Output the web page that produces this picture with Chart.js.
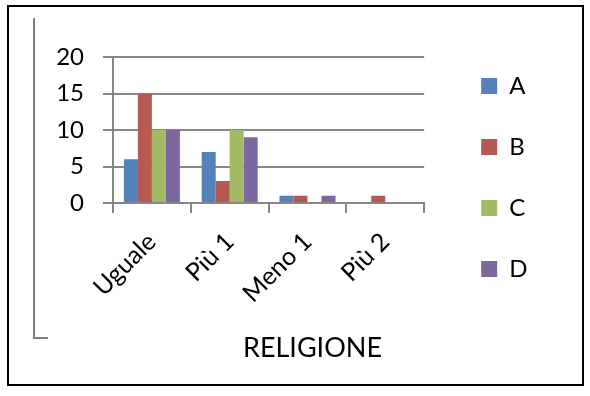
<!DOCTYPE html>
<html><head><meta charset="utf-8">
<script src="https://cdn.jsdelivr.net/npm/chart.js@4/dist/chart.umd.min.js"></script>
<style>
html,body{margin:0;padding:0;background:#fff;}
#wrap{position:relative;width:590px;height:396px;}
canvas{position:absolute;left:0;top:0;}
#xtitle{position:absolute;left:0;width:625px;top:333px;text-align:center;font-family:Lato,sans-serif;font-size:27px;line-height:1;color:#000;white-space:nowrap;}
</style></head><body>
<div id="wrap"><canvas id="c" width="590" height="396"></canvas><div id="xtitle"></div></div>
<script>
const categories = ['Uguale', 'Più 1', 'Meno 1', 'Più 2'];
const seriesNames = ['A', 'B', 'C', 'D'];
const seriesA = [6, 7, 1, 0];
const seriesB = [15, 3, 1, 1];
const seriesC = [10, 10, 0, 0];
const seriesD = [10, 9, 1, 0];
const yTickValues = [0, 5, 10, 15, 20];
const axisTitle = 'RELIGIONE';

document.getElementById('xtitle').textContent = axisTitle;

const seriesValues = [seriesA, seriesB, seriesC, seriesD];
const colors = ['#5581BB', '#B65A51', '#A2BA65', '#7C67A1'];
const GRID = '#878787';
const FONT = 'Lato';

const framePlugin = {
  id: 'frame',
  beforeDraw(chart) {
    const ctx = chart.ctx;
    ctx.save();
    ctx.fillStyle = '#fff';
    ctx.fillRect(0, 0, chart.width, chart.height);
    ctx.strokeStyle = '#000';
    ctx.lineWidth = 2;
    ctx.strokeRect(8, 6, 575, 379);
    ctx.strokeStyle = '#808080';
    ctx.lineWidth = 2;
    ctx.beginPath();
    ctx.moveTo(34, 18);
    ctx.lineTo(34, 338);
    ctx.lineTo(48, 338);
    ctx.stroke();
    ctx.restore();
  }
};

new Chart(document.getElementById('c'), {
  type: 'bar',
  data: {
    labels: categories,
    datasets: seriesNames.map((n, i) => ({
      label: n,
      data: seriesValues[i],
      backgroundColor: colors[i],
      borderWidth: 0,
      categoryPercentage: 0.72,
      barPercentage: 1.0
    }))
  },
  options: {
    responsive: false,
    animation: false,
    devicePixelRatio: 1,
    layout: { padding: { left: 0, right: 57, top: 37, bottom: 0 } },
    plugins: {
      legend: {
        position: 'right',
        align: 'start',
        labels: {
          boxWidth: 16, boxHeight: 16, padding: 37,
          color: '#000',
          font: { family: FONT, size: 24 }
        }
      },
      title: { display: false },
      tooltip: { enabled: false }
    },
    scales: {
      x: {
        offset: true,
        grid: { display: true, drawOnChartArea: false, drawTicks: true, tickLength: 10, color: GRID, lineWidth: 2, offset: true },
        border: { display: true, color: GRID, width: 2 },
        ticks: { color: '#000', font: { family: FONT, size: 25 }, maxRotation: 45, minRotation: 45, padding: 14, autoSkip: false },
        afterFit(s) { s.height = 193; }
      },
      y: {
        min: 0, max: 20,
        afterBuildTicks(s) { s.ticks = yTickValues.map(v => ({ value: v })); },
        grid: { color: GRID, lineWidth: 2, tickLength: 10, drawTicks: true },
        border: { display: true, color: GRID, width: 2 },
        ticks: { color: '#000', font: { family: FONT, size: 24 }, padding: 19 },
        afterFit(s) { s.width = 113; s.paddingTop = 57; }
      },
      y2: {
        position: 'right',
        display: true,
        grid: { display: false },
        border: { display: false },
        ticks: { display: false },
        afterFit(s) { s.width = 20; }
      }
    }
  },
  plugins: [framePlugin]
});
</script>
</body></html>
